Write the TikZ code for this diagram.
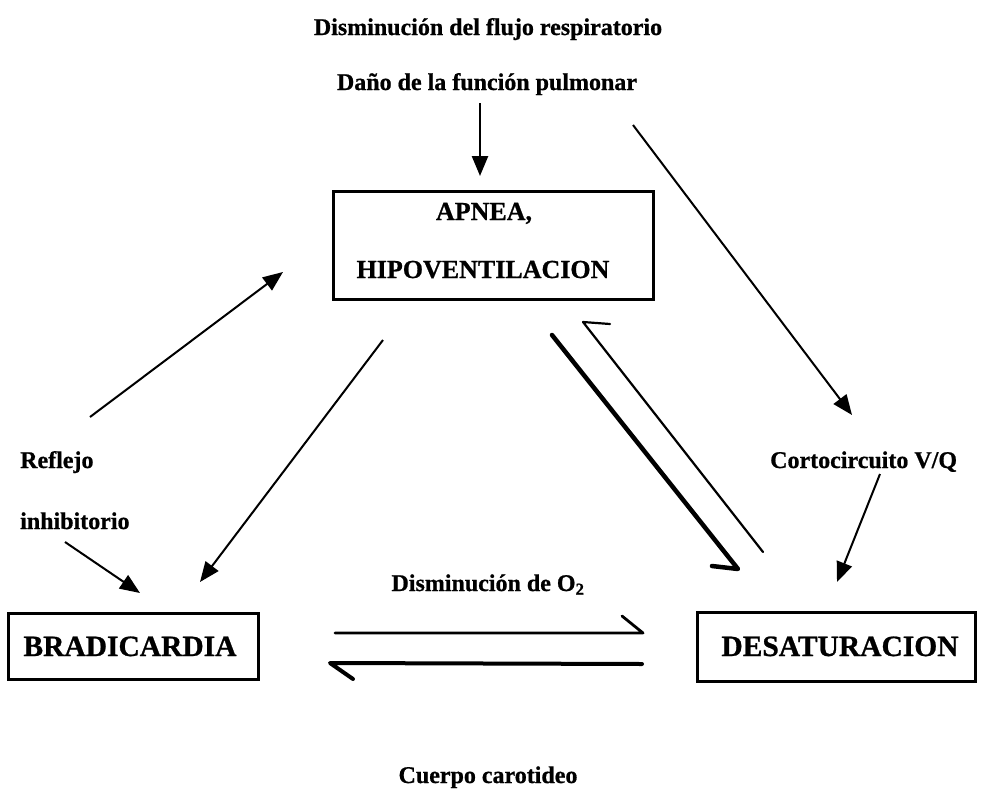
\documentclass[tikz,border=0pt]{standalone}
\usepackage{fontspec}
\setmainfont{Liberation Serif}[BoldFeatures={FakeBold=0.8}]
\usetikzlibrary{arrows.meta}
\begin{document}
\begin{tikzpicture}[x=1pt,y=-1pt,
  lbl/.style={font=\bfseries\fontsize{24}{28}\selectfont, inner sep=0pt, anchor=base},
  boxtxt/.style={font=\bfseries\fontsize{26}{30}\selectfont, inner sep=0pt, anchor=base},
  bigbox/.style={draw, line width=3pt, inner sep=0pt},
  bigtxt/.style={font=\bfseries\fontsize{29.5}{34}\selectfont, inner sep=0pt, anchor=base},
  arr/.style={-{Triangle[length=20pt,width=16pt]}, line width=2pt},
  harp/.style={line join=round, line cap=round}]
\useasboundingbox (0,0) rectangle (982,795);

% texts
\node[lbl] (t1) at (488,35) {Disminución del flujo respiratorio};
\node[lbl] (t2) at (487,90) {Daño de la función pulmonar};
\node[lbl, anchor=base west] (refl) at (20,468) {Reflejo};
\node[lbl, anchor=base west] (inhi) at (20,529) {inhibitorio};
\node[lbl, anchor=base west] (corto) at (770,468) {Cortocircuito V/Q};
\node[lbl] (o2) at (488,591) {Disminución de O\textsubscript{2}};
\node[lbl] (cuerpo) at (488,783) {Cuerpo carotideo};

% boxes
\node[bigbox, minimum width=320, minimum height=108] (apnea) at (493,245) {};
\node[boxtxt] (apnea1) at (484,220) {APNEA,};
\node[boxtxt] (apnea2) at (483,278) {HIPOVENTILACION};
\node[bigbox, minimum width=250, minimum height=66] (brad) at (133,646) {};
\node[bigtxt] (bradt) at (130,656) {BRADICARDIA};
\node[bigbox, minimum width=278, minimum height=69] (desat) at (836,646.5) {};
\node[bigtxt] (desatt) at (840,656) {DESATURACION};

% coordinates
\coordinate (vS) at (480,103);  \coordinate (vT) at (480,176);
\coordinate (dS) at (633,125);  \coordinate (dT) at (852,415);
\coordinate (cS) at (880,474);  \coordinate (cT) at (837,582);
\coordinate (lS) at (90,417);   \coordinate (lT) at (283,272);
\coordinate (bS) at (383,340);  \coordinate (bT) at (200,582);
\coordinate (iS) at (65,542);   \coordinate (iT) at (140,593);
\coordinate (h1S) at (552,335); \coordinate (h1T) at (738,569); \coordinate (h1B) at (712,566);
\coordinate (h2S) at (763,552); \coordinate (h2T) at (583,322); \coordinate (h2B) at (610,324);
\coordinate (k1S) at (335,633); \coordinate (k1T) at (643,633); \coordinate (k1B) at (622,616);
\coordinate (k2S) at (642,664); \coordinate (k2T) at (330,663); \coordinate (k2B) at (353,679);

% arrows
\draw[arr, line width=2.5pt] (vS) -- (vT);
\draw[arr] (dS) -- (dT);
\draw[arr] (cS) -- (cT);
\draw[arr] (lS) -- (lT);
\draw[arr] (bS) -- (bT);
\draw[arr] (iS) -- (iT);
\draw[harp, line width=4.5pt] (h1S) -- (h1T) -- (h1B);
\draw[harp, line width=2.2pt] (h2S) -- (h2T) -- (h2B);
\draw[harp, line width=2.8pt] (k1S) -- (k1T) -- (k1B);
\draw[harp, line width=4pt] (k2S) -- (k2T) -- (k2B);
\end{tikzpicture}
\end{document}
